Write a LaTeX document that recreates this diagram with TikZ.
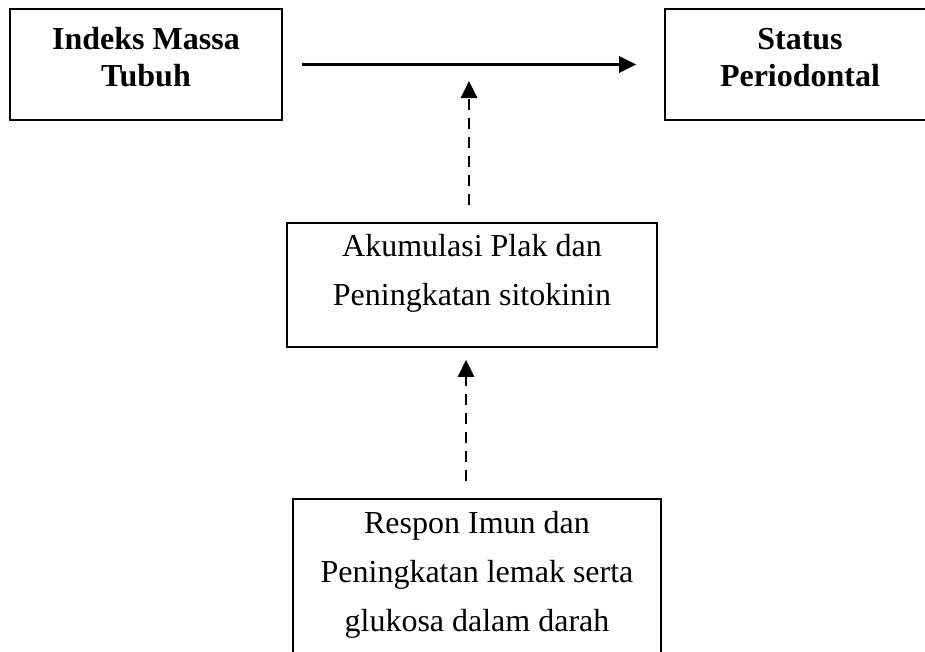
\documentclass[tikz,border=0pt]{standalone}
\usepackage{fontspec}
\setmainfont{Liberation Serif}
\usetikzlibrary{arrows.meta,positioning}
\tikzset{
box/.style=
    {draw,
    line width=1.6pt,
    inner sep=0pt
    },
boxtext/.style=
    {align=center,
    inner sep=0pt,
    font=\fontsize{32}{49}\selectfont
    },
headtext/.style=
    {boxtext,
    font=\fontsize{32}{37}\selectfont\bfseries
    },
link/.style=
    {line width=3pt,
    -{Triangle[length=17pt,width=16pt]}
    },
dashlink/.style=
    {link,
    line width=2.7pt,
    dash pattern=on 11pt off 8pt
    }}

\begin{document}
\begin{tikzpicture}[x=1pt,y=-1pt]
\useasboundingbox (0,0) rectangle (925,651);
\node[box,minimum width=272pt,minimum height=111pt] (imt) at (146,64.5) {};
\node[box,minimum width=270pt,minimum height=111pt] (status) at (800,64.5) {};
\node[box,minimum width=370pt,minimum height=124pt] (akum) at (472,285) {};
\node[box,minimum width=368pt,minimum height=181pt] (respon) at (477,589.5) {};

\node[headtext,below=19pt of imt.north] (imt text) {Indeks Massa\\Tubuh};
\node[headtext,below=20pt of status.north] (status text) {Status\\Periodontal};
\node[boxtext,below=12pt of akum.north] (akum text) {Akumulasi Plak dan\\Peningkatan sitokinin};
\node[boxtext,below=13pt of respon.north] (respon text) {Respon Imun dan\\Peningkatan lemak serta\\glukosa dalam darah};

\coordinate (hit) at (469,64);
\coordinate (lower) at (466,420);
\draw[link,shorten <=19pt,shorten >=28pt] (imt) -- (status);
\draw[dashlink,shorten <=17pt,shorten >=17pt] (akum.north -| hit) -- (hit);
\draw[dashlink,shorten <=17pt,shorten >=12pt] (respon.north -| lower) -- (akum.south -| lower);
\end{tikzpicture}
\end{document}
